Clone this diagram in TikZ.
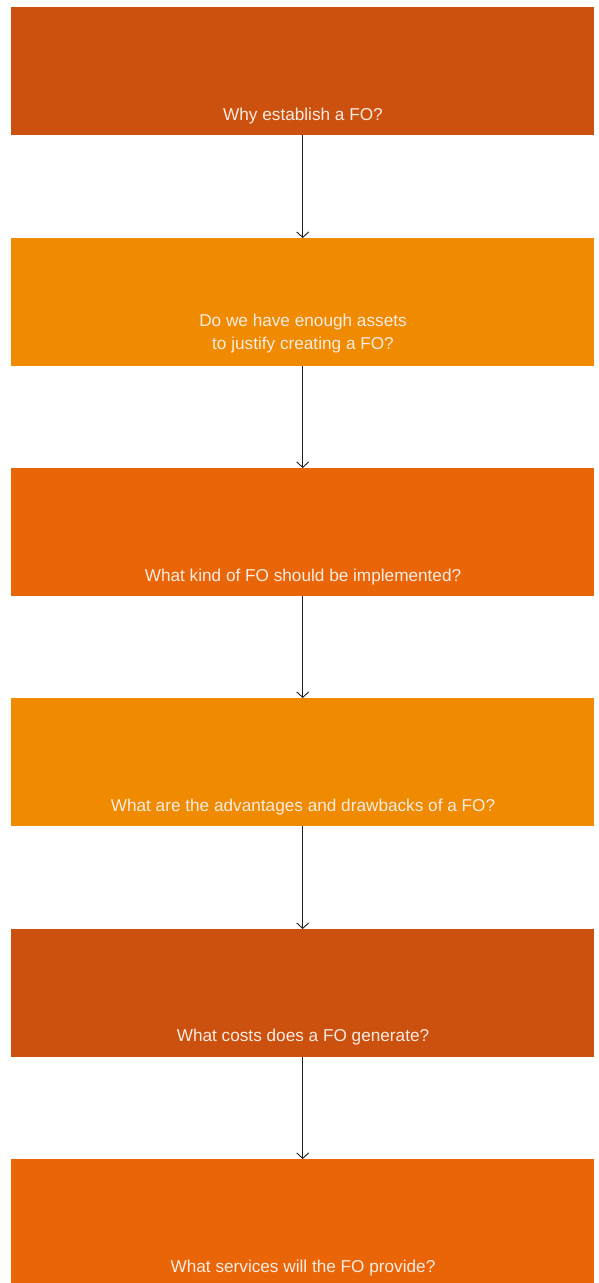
\documentclass[tikz,border=0pt]{standalone}
\usepackage{fontspec}
\setmainfont{Liberation Sans}
\usetikzlibrary{arrows.meta}
\definecolor{rust}{RGB}{204,80,14}
\definecolor{amber}{RGB}{240,138,0}
\definecolor{tang}{RGB}{234,101,8}
\definecolor{txt}{RGB}{252,236,226}
\definecolor{arr}{RGB}{30,30,30}
\begin{document}
\begin{tikzpicture}[x=1pt,y=-1pt,
  qbox/.style={minimum width=583pt,minimum height=128pt,inner sep=0pt,anchor=north west},
  qtext/.style={text=txt,font=\fontsize{17.2}{23}\selectfont,align=center,anchor=base},
  conn/.style={draw=arr,line width=0.9pt,-{Straight Barb[length=5.5pt,width=12pt,line width=0.9pt]}}]
\useasboundingbox (0,0) rectangle (598,1283);
\node[qbox,fill=rust]  (b1) at (11,7) {};
\node[qbox,fill=amber] (b2) at (11,238) {};
\node[qbox,fill=tang]  (b3) at (11,468) {};
\node[qbox,fill=amber] (b4) at (11,698) {};
\node[qbox,fill=rust]  (b5) at (11,929) {};
\node[qbox,fill=tang,minimum height=130pt]  (b6) at (11,1159) {};
\node[qtext] (t1) at (303,120) {Why establish a FO?};
\node[qtext] (t2) at (303,349) {Do we have enough assets\\to justify creating a FO?};
\node[qtext] (t3) at (303,581) {What kind of FO should be implemented?};
\node[qtext] (t4) at (303,811) {What are the advantages and drawbacks of a FO?};
\node[qtext] (t5) at (303,1041) {What costs does a FO generate?};
\node[qtext] (t6) at (303,1272) {What services will the FO provide?};
\draw[conn] (b1.south) -- (b2.north);
\draw[conn] (b2.south) -- (b3.north);
\draw[conn] (b3.south) -- (b4.north);
\draw[conn] (b4.south) -- (b5.north);
\draw[conn] (b5.south) -- (b6.north);
\end{tikzpicture}
\end{document}
